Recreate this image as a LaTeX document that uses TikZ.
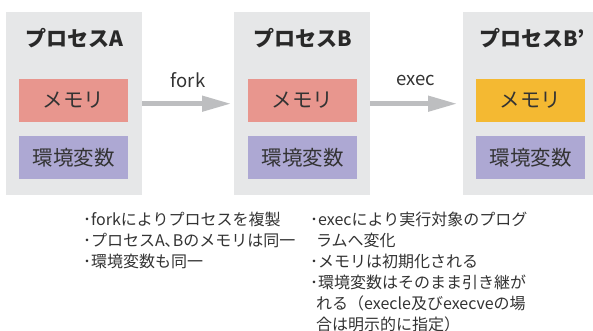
\documentclass[tikz,border=0pt]{standalone}
\usepackage{fontspec}
\setmainfont{Noto Sans CJK JP}
\usetikzlibrary{arrows.meta}
\definecolor{boxgray}{HTML}{E6E7E8}
\definecolor{mempink}{HTML}{E8968E}
\definecolor{envpurple}{HTML}{ADA8D3}
\definecolor{memyellow}{HTML}{F4B932}
\definecolor{arrowgray}{HTML}{BDBEC0}
\definecolor{txt}{HTML}{333333}
\begin{document}
\begin{tikzpicture}[x=1pt,y=-1pt,
  procbox/.style={fill=boxgray, draw=none, minimum width=136pt, minimum height=183pt, inner sep=0pt, anchor=north west},
  membox/.style={draw=none, minimum width=109pt, minimum height=43pt, inner sep=0pt, font=\fontsize{20.5}{20.5}\selectfont, text=txt},
  title/.style={font=\fontsize{21}{21}\selectfont\bfseries, text=txt!80!black},
  flow/.style={draw=arrowgray, line width=4.5pt, -{Triangle[length=29pt,width=15pt]}},
  flowlabel/.style={font=\fontsize{18.5}{18.5}\selectfont, text=txt},
  note/.style={anchor=base west, inner sep=0pt, font=\fontsize{16}{16}\selectfont, text=txt}]
\useasboundingbox (0,0) rectangle (593,331);
\fill[white] (0,0) rectangle (593,331);
% process boxes
\node[procbox] (procA) at (6,12) {};
\node[procbox] (procB) at (234,12) {};
\node[procbox] (procC) at (463,12) {};
% titles
\node[title] (tA) at (74.5,38) {プロセスA};
\node[title] (tB) at (302.5,38) {プロセスB};
\node[title] (tC) at (532,38) {プロセスB’};
% memory
\node[membox, fill=mempink] (memA) at (73.5,100.5) {メモリ};
\node[membox, fill=mempink] (memB) at (302.5,100.5) {メモリ};
\node[membox, fill=memyellow] (memC) at (530.5,100.5) {メモリ};
% env
\node[membox, fill=envpurple] (envA) at (73.5,157.5) {環境変数};
\node[membox, fill=envpurple] (envB) at (302.5,157.5) {環境変数};
\node[membox, fill=envpurple] (envC) at (530.5,157.5) {環境変数};
% arrows
\draw[flow, shorten >=3pt] (procA.east) -- (procB.west);
\draw[flow, shorten >=6pt] (procB.east) -- (procC.west);
\node[flowlabel] (lfork) at (188,80) {fork};
\node[flowlabel] (lexec) at (416,80) {exec};
% notes
\node[note] (nA1) at (83,225) {･forkによりプロセスを複製};
\node[note] (nA2) at (83,246) {･プロセスA､Bのメモリは同一};
\node[note] (nA3) at (83,267) {･環境変数も同一};
\node[note] (nB1) at (310,225) {･execにより実行対象のプログ};
\node[note] (nB2) at (316,246) {ラムへ変化};
\node[note] (nB3) at (310,267) {･メモリは初期化される};
\node[note] (nB4) at (310,288) {･環境変数はそのまま引き継が};
\node[note] (nB5) at (316,309) {れる（execle及びexecveの場};
\node[note] (nB6) at (316,330) {合は明示的に指定）};
\end{tikzpicture}
\end{document}
